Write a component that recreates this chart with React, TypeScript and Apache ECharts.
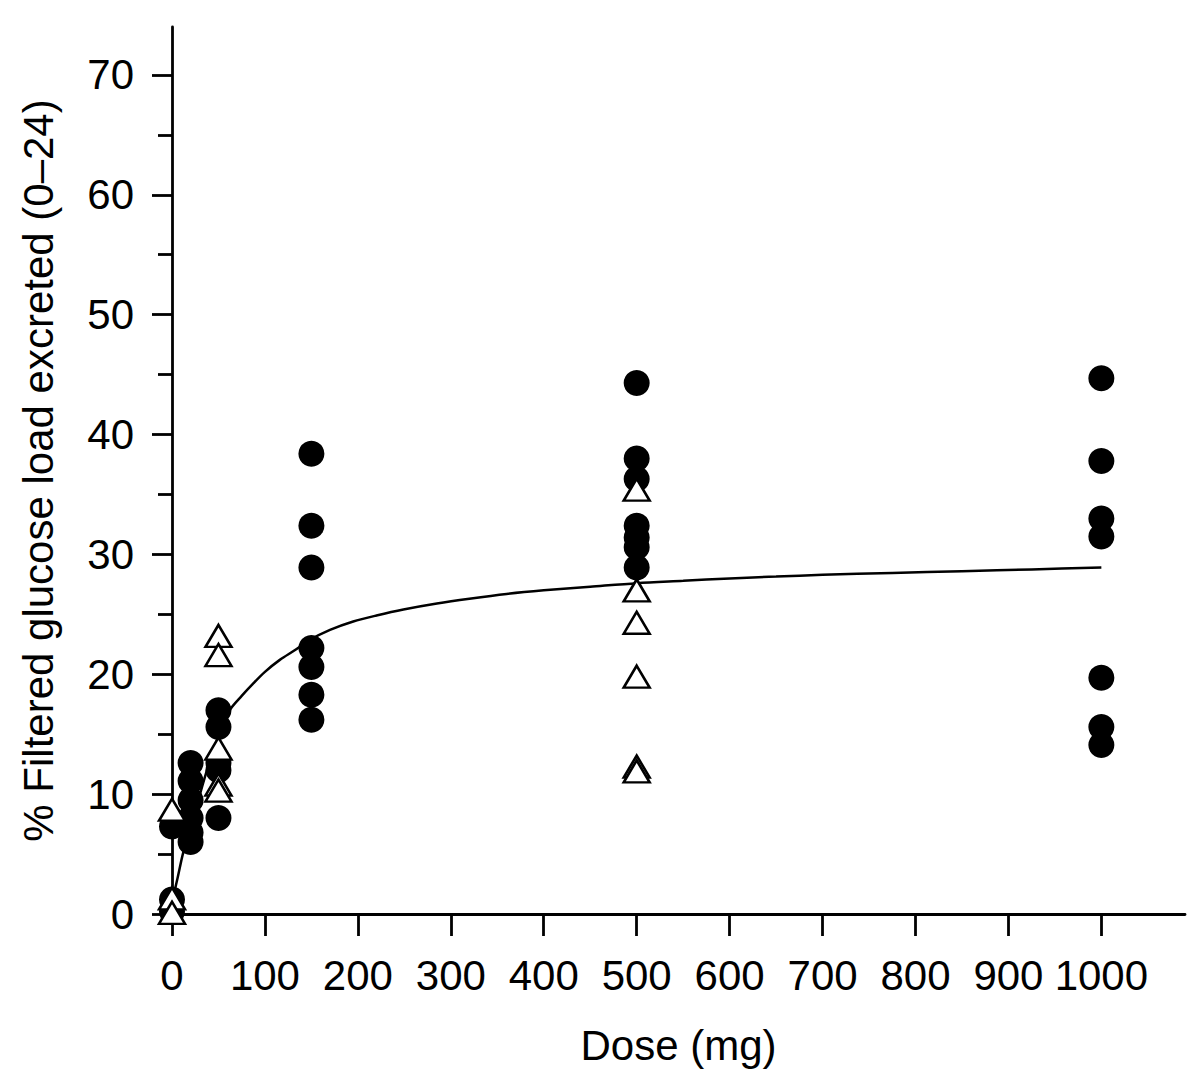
import React, { useEffect, useRef } from "react";
import * as echarts from "echarts";

// Filled circles: [dose (mg), % filtered glucose load excreted]
const circleDose0 = [7.3, 1.2, 0.2];
const circleDose20 = [12.6, 11.1, 9.5, 8.0, 6.8, 6.0];
const circleDose50 = [17.0, 15.6, 12.6, 12.0, 8.0];
const circleDose150 = [38.4, 32.4, 28.9, 22.2, 20.6, 18.3, 16.2];
const circleDose500 = [44.3, 38.0, 36.3, 32.4, 31.4, 30.6, 28.9];
const circleDose1000 = [44.7, 37.8, 33.0, 31.5, 19.7, 15.6, 14.1];

// Open triangles
const triDose0 = [8.7, 1.3, 0.1];
const triDose50 = [23.2, 21.6, 13.8, 10.8, 10.3];
const triDose500 = [35.4, 27.0, 24.3, 19.8, 12.3, 11.9];

// Fitted curve
const curveDose = [0, 6, 12, 25, 40, 52, 62, 75, 87, 100, 116, 132, 148, 170, 195, 220, 249, 285, 320, 360, 400, 450, 500, 550, 600, 650, 700, 775, 850, 925, 1000];
const curveValue = [1.0, 3.0, 5.1, 8.6, 12.6, 15.2, 17.0, 18.2, 19.2, 20.2, 21.2, 22.0, 22.85, 23.7, 24.4, 24.9, 25.4, 25.9, 26.3, 26.7, 27.0, 27.3, 27.6, 27.8, 28.0, 28.15, 28.3, 28.45, 28.6, 28.75, 28.9];

const xTicks = [0, 100, 200, 300, 400, 500, 600, 700, 800, 900, 1000];
const yTicks = [0, 10, 20, 30, 40, 50, 60, 70];
const yMinorTicks = [5, 15, 25, 35, 45, 55, 65];

const FONT = '"Liberation Sans", Arial, Helvetica, sans-serif';
const FS = 42;

function pairs(dose: number, vals: number[]) {
  return vals.map((v) => [dose, v]);
}

export default function App() {
  const ref = useRef<HTMLDivElement>(null);
  useEffect(() => {
    if (!ref.current) return;
    const chart = echarts.init(ref.current, null, { renderer: "svg" });
    const circles = [
      ...pairs(0, circleDose0),
      ...pairs(20, circleDose20),
      ...pairs(50, circleDose50),
      ...pairs(150, circleDose150),
      ...pairs(500, circleDose500),
      ...pairs(1000, circleDose1000),
    ];
    const triangles = [
      ...pairs(0, triDose0),
      ...pairs(50, triDose50),
      ...pairs(500, triDose500),
    ];
    const curve = curveDose.map((d, i) => [d, curveValue[i]]);
    const axisLine = { show: true, lineStyle: { color: "#000", width: 2.8 } };
    chart.setOption({
      animation: false,
      backgroundColor: "#fff",
      grid: { left: 172, right: 15, top: 27, bottom: 175 },
      xAxis: {
        type: "value",
        min: 0,
        max: 1090,
        interval: 100,
        name: "Dose (mg)",
        nameLocation: "middle",
        nameGap: 110,
        nameTextStyle: { color: "#000", fontSize: FS, fontFamily: FONT },
        axisLine: { ...axisLine, onZero: false },
        axisTick: { show: true, length: 22, lineStyle: { color: "#000", width: 2.8 }, customValues: xTicks },
        axisLabel: {
          color: "#000",
          fontSize: FS,
          fontFamily: FONT,
          margin: 40,
          customValues: xTicks,
          formatter: (v: number) => String(v),
        },
        splitLine: { show: false },
      },
      yAxis: [
        {
          type: "value",
          min: 0,
          max: 74,
          interval: 10,
          name: "% Filtered glucose load excreted (0–24)",
          nameLocation: "middle",
          nameGap: 113,
          nameTextStyle: { color: "#000", fontSize: FS, fontFamily: FONT },
          axisLine: { ...axisLine, onZero: false },
          axisTick: { show: true, length: 20, lineStyle: { color: "#000", width: 2.8 }, customValues: yTicks },
          axisLabel: {
            color: "#000",
            fontSize: FS,
            fontFamily: FONT,
            margin: 38,
            customValues: yTicks,
            formatter: (v: number) => String(v),
          },
          splitLine: { show: false },
        },
        {
          type: "value",
          position: "left",
          min: 0,
          max: 74,
          interval: 10,
          axisLine: { show: false },
          axisTick: { show: true, length: 14, lineStyle: { color: "#000", width: 2.8 }, customValues: yMinorTicks },
          axisLabel: { show: false },
          splitLine: { show: false },
        },
      ],
      series: [
        {
          type: "line",
          data: curve,
          smooth: 0.3,
          showSymbol: false,
          symbol: "none",
          lineStyle: { color: "#000", width: 2.5 },
          z: 1,
        },
        {
          type: "scatter",
          data: circles,
          symbol: "circle",
          symbolSize: 26,
          itemStyle: { color: "#000", opacity: 1 },
          z: 2,
        },
        {
          type: "scatter",
          data: triangles,
          symbol: "triangle",
          symbolSize: [26, 22],
          itemStyle: { color: "#fff", borderColor: "#000", borderWidth: 2.5, opacity: 1 },
          z: 3,
        },
      ],
    });
    return () => chart.dispose();
  }, []);
  return (
    <div
      ref={ref}
      style={{ position: "fixed", left: 0, top: 0, width: 1200, height: 1089 }}
    />
  );
}
